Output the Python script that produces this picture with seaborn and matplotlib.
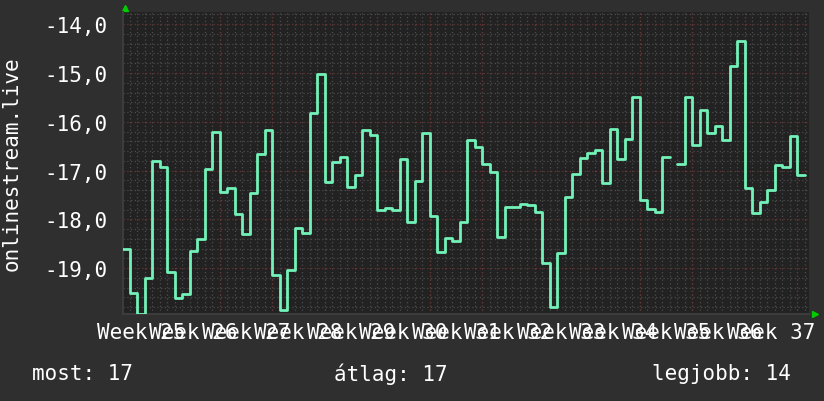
import numpy as np
import pandas as pd
import matplotlib
matplotlib.use("Agg")
import matplotlib.pyplot as plt
import seaborn as sns
from matplotlib.ticker import MultipleLocator, FuncFormatter

# ===== DATA =====
# one value per day, the first day is 6 days before the start of week 26
first_day = -6
rank = [
    -18.61, -19.51, -19.93, -19.20, -16.81, -16.92,
    -19.07, -19.61, -19.53, -18.64, -18.40, -16.97, -16.20,
    -17.44, -17.35, -17.90, -18.30, -17.47, -16.66, -16.16,
    -19.14, -19.85, -19.03, -18.18, -18.27, -15.82, -15.03,
    -17.23, -16.82, -16.73, -17.33, -17.10, -16.16, -16.27,
    -17.81, -17.76, -17.81, -16.77, -18.05, -17.21, -16.23,
    -17.94, -18.67, -18.38, -18.44, -18.05, -16.38, -16.51,
    -16.86, -17.02, -18.36, -17.74, -17.74, -17.68, -17.70,
    -17.85, -18.89, -19.80, -18.68, -17.55, -17.08, -16.75,
    -16.65, -16.57, -17.25, -16.14, -16.77, -16.36, -15.49,
    -17.60, -17.78, -17.85, -16.73, np.nan, -16.86, -15.50,
    -16.47, -15.75, -16.24, -16.08, -16.37, -14.85, -14.35,
    -17.36, -17.86, -17.64, -17.40, -16.88, -16.92, -16.30,
    -17.10,
]
week_labels = ["Week %d" % w for w in range(25, 38)]
y_ticks = [-19, -18, -17, -16, -15, -14]
footer = ["most: 17", "átlag: 17", "legjobb: 14"]

# ===== COLOURS =====
FIG_BG = "#2f2f2f"
AX_BG = "#222222"
LINE = "#72f2b8"
MINOR = "#4c4c4c"
MAJOR = "#6a3434"
TEXT = "#ffffff"

# ===== TABLE (each daily value held for one day) =====
df = pd.DataFrame({"day": np.arange(first_day, first_day + len(rank)), "rank": rank})
df["seg"] = df["rank"].isna().cumsum()
df = df.dropna().reset_index(drop=True)
df["order"] = df.index * 2
ends = df.assign(day=df["day"] + 1, order=df["order"] + 1)
steps = pd.concat([df, ends]).sort_values("order").reset_index(drop=True)

# ===== PLOT =====
sns.set_style("dark")
plt.rcParams["font.family"] = ["DejaVu Sans Mono", "DejaVu Sans"]

fig = plt.figure(figsize=(8.24, 4.02), dpi=100, facecolor=FIG_BG)
ax = fig.add_axes([123 / 824, 87 / 402, 686 / 824, 302 / 402])
ax.set_facecolor(AX_BG)

sns.lineplot(
    data=steps,
    x="day",
    y="rank",
    units="seg",
    estimator=None,
    sort=False,
    color=LINE,
    linewidth=2,
    ax=ax,
    zorder=5,
)

ax.set_xlim(-5.9, 85.6)
ax.set_ylim(-19.94, -13.75)

# grid: daily / 0.2 minor, weekly / 1.0 major
ax.xaxis.set_minor_locator(MultipleLocator(1))
ax.yaxis.set_minor_locator(MultipleLocator(0.2))
ax.set_xticks([-3.5 + 7 * k for k in range(len(week_labels))])
ax.set_xticklabels(week_labels)
ax.set_yticks(y_ticks)
ax.yaxis.set_major_formatter(FuncFormatter(lambda v, p: ("%.1f" % v).replace(".", ",")))

ax.grid(False)
ax.grid(which="minor", color=MINOR, linestyle=(0, (1, 2)), linewidth=0.9)
ax.yaxis.grid(which="major", color=MAJOR, linestyle=(0, (1, 2)), linewidth=0.9)
for d in range(0, 86, 7):
    ax.axvline(d, color=MAJOR, linestyle=(0, (1, 2)), linewidth=0.9, zorder=1)

ax.tick_params(axis="both", which="both", length=0, colors=TEXT, labelsize=15)
ax.tick_params(axis="y", pad=11)
ax.tick_params(axis="x", pad=6)

for side in ["top", "right"]:
    ax.spines[side].set_visible(False)
for side in ["left", "bottom"]:
    ax.spines[side].set_color("#3c3c3c")
    ax.spines[side].set_linewidth(1.5)

ax.set_xlabel("")
ax.set_ylabel("")

# arrows at the axis ends
ax.plot([0.003], [1.012], marker="^", color="#00cc00", markersize=5,
        transform=ax.transAxes, clip_on=False)
ax.plot([1.009], [0.0], marker=">", color="#00cc00", markersize=5,
        transform=ax.transAxes, clip_on=False)

fig.text(12 / 824, 1 - 164 / 402, "onlinestream.live", rotation=90,
         color=TEXT, fontsize=15, ha="center", va="center")

fig.text(32 / 824, 1 - 374 / 402, footer[0], color=TEXT, fontsize=15, ha="left", va="center")
fig.text(334 / 824, 1 - 374 / 402, footer[1], color=TEXT, fontsize=15, ha="left", va="center")
fig.text(791 / 824, 1 - 374 / 402, footer[2], color=TEXT, fontsize=15, ha="right", va="center")

fig.savefig("out.png", dpi=100, facecolor=FIG_BG)
